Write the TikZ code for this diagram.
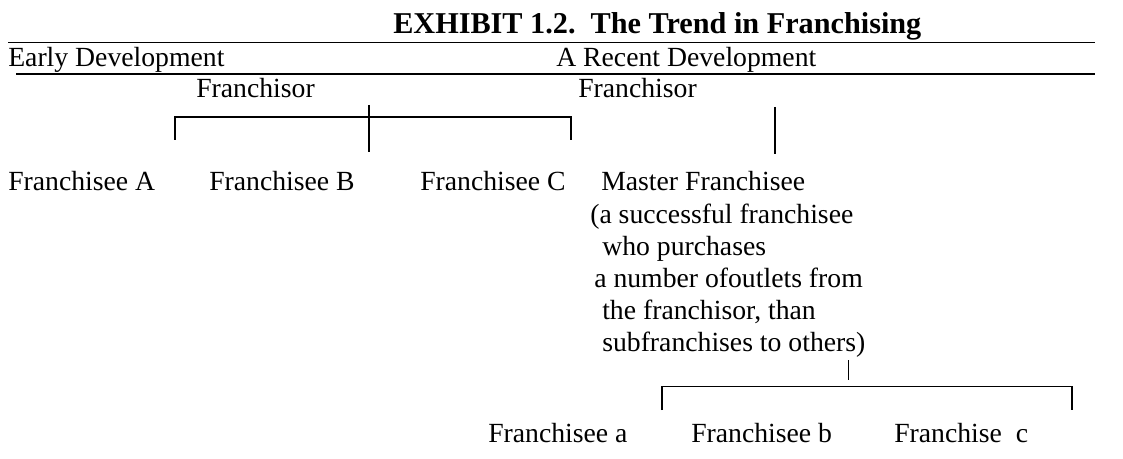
\documentclass[tikz,border=0pt]{standalone}
\usepackage{fontspec}
\setmainfont{Liberation Serif}
\begin{document}
\begin{tikzpicture}[x=0.025cm, y=-0.025cm,
        txt/.style={anchor=base west, inner sep=0pt, font=\fontsize{19.7}{24}\selectfont},
        rule/.style={line width=1.4pt},
        link/.style={line width=1.3pt}]
    \useasboundingbox (0,0) rectangle (1123,459);

    \node[anchor=base west, inner sep=0pt, font=\fontsize{21.5}{26}\selectfont\bfseries]
        (title) at (393,34) {EXHIBIT 1.2.\ \ The Trend in Franchising};
    \coordinate (topL) at (8,42.5);
    \coordinate (topR) at (1095,42.5);
    \draw[rule] (topL) -- (topR);

    \node[txt] (early) at (8,67) {Early Development};
    \node[txt] (recent) at (556,67) {A Recent Development};
    \coordinate (subL) at (16,74);
    \coordinate (subR) at (1095,74);
    \draw[rule] (subL) -- (subR);

    \node[txt] (sorL) at (196,98) {Franchisor};
    \node[txt] (sorR) at (578,98) {Franchisor};

    \coordinate (sorLtop) at (368.7,105);
    \coordinate (sorLbot) at (368.7,152);
    \coordinate (feeAend) at (175,140);
    \coordinate (feeCend) at (571,140);
    \draw[link] (sorLtop) -- (sorLbot);
    \draw[link] (feeAend) -- ++(0,-23.3) -| (feeCend);

    \coordinate (sorRtop) at (775,107);
    \coordinate (sorRbot) at (775,154);
    \draw[link] (sorRtop) -- (sorRbot);

    \node[txt] (feeA) at (8,191) {Franchisee A};
    \node[txt] (feeB) at (209,191) {Franchisee B};
    \node[txt] (feeC) at (420,191) {Franchisee C};
    \node[txt] (master) at (601,191) {Master Franchisee};
    \node[txt] (note1) at (590,223) {(a successful franchisee};
    \node[txt] (note2) at (602,255) {who purchases};
    \node[txt] (note3) at (594,287) {a number ofoutlets from};
    \node[txt] (note4) at (602,319) {the franchisor, than};
    \node[txt] (note5) at (602,351) {subfranchises to others)};

    \coordinate (mastop) at (848.5,360);
    \coordinate (masbot) at (848.5,380);
    \coordinate (subAend) at (662,410);
    \coordinate (subCend) at (1072,410);
    \draw[link] (mastop) -- (masbot);
    \draw[link] (subAend) -- ++(0,-23.5) -| (subCend);

    \node[txt] (suba) at (488,442) {Franchisee a};
    \node[txt] (subb) at (691,442) {Franchisee b};
    \node[txt] (subc) at (894,442) {Franchise\ \ c};
\end{tikzpicture}
\end{document}
